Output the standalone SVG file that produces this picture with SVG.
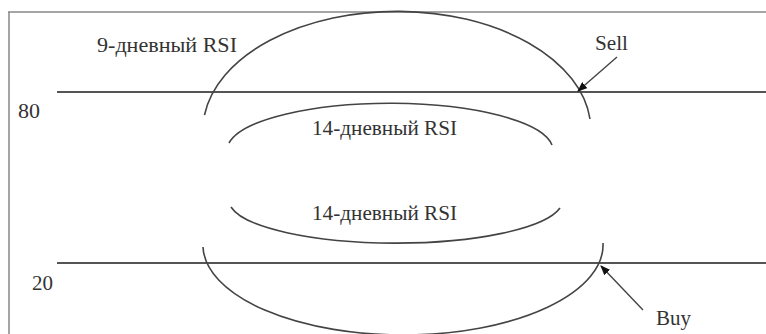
<svg xmlns="http://www.w3.org/2000/svg" width="766" height="334" viewBox="0 0 766 334">
  <defs>
    <style>
      text { font-family: 'Liberation Serif', 'DejaVu Serif', serif; font-size: 20px; fill: #333; }
      .level { stroke: #555; stroke-width: 2; fill: none; }
      .curve { stroke: #444; stroke-width: 1.6; fill: none; }
      .frame { stroke: #888; stroke-width: 1.5; fill: none; }
      .ptr { stroke: #444; stroke-width: 1.4; fill: none; }
    </style>
    <marker id="ah" markerWidth="10" markerHeight="8" refX="9" refY="4" orient="auto" markerUnits="userSpaceOnUse">
      <path d="M0,0 L10,4 L0,8 Z" fill="#111"/>
    </marker>
  </defs>
  <rect width="766" height="334" fill="#fff"/>
  <g id="frame">
    <path class="frame" d="M8,12 H766 M9,12 V334"/>
  </g>
  <g id="level80">
    <line class="level" x1="57" y1="92" x2="766" y2="92"/>
    <text x="18" y="118" textLength="22" lengthAdjust="spacingAndGlyphs">80</text>
  </g>
  <g id="level20">
    <line class="level" x1="57" y1="263" x2="766" y2="263"/>
    <text x="32" y="290" textLength="21" lengthAdjust="spacingAndGlyphs">20</text>
  </g>
  <g id="rsi9-top">
    <path class="curve" d="M204.5,115 A194,119 0 0 1 590,119"/>
    <text x="97" y="52" textLength="140" lengthAdjust="spacingAndGlyphs">9-дневный RSI</text>
  </g>
  <g id="rsi14-top">
    <path class="curve" d="M229,143 A163,47 0 0 1 552,145"/>
    <text x="312" y="135" textLength="145" lengthAdjust="spacingAndGlyphs">14-дневный RSI</text>
  </g>
  <g id="rsi14-bottom">
    <path class="curve" d="M231,207 A167,43 0 0 0 560,208"/>
    <text x="312" y="220" textLength="145" lengthAdjust="spacingAndGlyphs">14-дневный RSI</text>
  </g>
  <g id="rsi9-bottom">
    <path class="curve" d="M203,247 A200,90 0 0 0 603,243"/>
  </g>
  <g id="sell">
    <text x="595" y="50" textLength="33" lengthAdjust="spacingAndGlyphs">Sell</text>
  </g>
  <g id="buy">
    <text x="656" y="325" textLength="35" lengthAdjust="spacingAndGlyphs">Buy</text>
  </g>
  <g id="connectors">
    <line class="ptr" x1="617" y1="57" x2="578" y2="91" marker-end="url(#ah)"/>
    <line class="ptr" x1="643" y1="310" x2="601" y2="266" marker-end="url(#ah)"/>
  </g>
</svg>
